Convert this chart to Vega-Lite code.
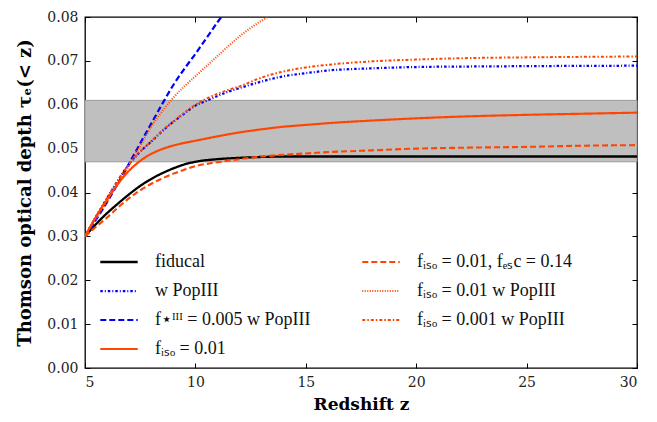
{
  "$schema": "https://vega.github.io/schema/vega-lite/v6.json",
  "width": 552,
  "height": 351,
  "autosize": {"type": "none"},
  "padding": {"left": 85, "top": 17, "right": 20, "bottom": 54},
  "config": {
    "font": "DejaVu Serif",
    "view": {"stroke": "#000", "strokeWidth": 1.3},
    "axis": {"grid": false, "domain": false, "tickColor": "#000", "tickSize": -5, "labelFont": "DejaVu Serif", "labelFontSize": 14, "labelColor": "#222", "titleFont": "DejaVu Serif", "titleFontSize": 17, "titleFontWeight": "bold", "titleColor": "#000"}
  },
  "datasets": {
    "band": [{"x0": 5, "x1": 30, "lo": 0.047, "hi": 0.061}],
    "curves": [
      {"z": 5, "tau": 0.030, "s": "fiducal"},
      {"z": 5.5, "tau": 0.0328, "s": "fiducal"},
      {"z": 6, "tau": 0.0353, "s": "fiducal"},
      {"z": 6.5, "tau": 0.0375, "s": "fiducal"},
      {"z": 7, "tau": 0.0396, "s": "fiducal"},
      {"z": 7.5, "tau": 0.0415, "s": "fiducal"},
      {"z": 8, "tau": 0.0431, "s": "fiducal"},
      {"z": 8.5, "tau": 0.0444, "s": "fiducal"},
      {"z": 9, "tau": 0.0455, "s": "fiducal"},
      {"z": 9.5, "tau": 0.0464, "s": "fiducal"},
      {"z": 10, "tau": 0.0470, "s": "fiducal"},
      {"z": 11, "tau": 0.0476, "s": "fiducal"},
      {"z": 12, "tau": 0.0479, "s": "fiducal"},
      {"z": 13, "tau": 0.0481, "s": "fiducal"},
      {"z": 14, "tau": 0.0482, "s": "fiducal"},
      {"z": 16, "tau": 0.0482, "s": "fiducal"},
      {"z": 20, "tau": 0.0482, "s": "fiducal"},
      {"z": 25, "tau": 0.0482, "s": "fiducal"},
      {"z": 30, "tau": 0.0482, "s": "fiducal"},

      {"z": 5, "tau": 0.030, "s": "w PopIII"},
      {"z": 5.5, "tau": 0.0345, "s": "w PopIII"},
      {"z": 6, "tau": 0.0387, "s": "w PopIII"},
      {"z": 6.5, "tau": 0.0428, "s": "w PopIII"},
      {"z": 7, "tau": 0.0465, "s": "w PopIII"},
      {"z": 7.5, "tau": 0.0493, "s": "w PopIII"},
      {"z": 8, "tau": 0.0516, "s": "w PopIII"},
      {"z": 8.5, "tau": 0.0540, "s": "w PopIII"},
      {"z": 9, "tau": 0.0561, "s": "w PopIII"},
      {"z": 9.5, "tau": 0.0580, "s": "w PopIII"},
      {"z": 10, "tau": 0.0598, "s": "w PopIII"},
      {"z": 10.5, "tau": 0.0609, "s": "w PopIII"},
      {"z": 11, "tau": 0.0620, "s": "w PopIII"},
      {"z": 11.5, "tau": 0.0630, "s": "w PopIII"},
      {"z": 12, "tau": 0.0638, "s": "w PopIII"},
      {"z": 13, "tau": 0.0653, "s": "w PopIII"},
      {"z": 14, "tau": 0.0665, "s": "w PopIII"},
      {"z": 15, "tau": 0.0672, "s": "w PopIII"},
      {"z": 16, "tau": 0.0678, "s": "w PopIII"},
      {"z": 18, "tau": 0.0683, "s": "w PopIII"},
      {"z": 20, "tau": 0.0686, "s": "w PopIII"},
      {"z": 22, "tau": 0.0687, "s": "w PopIII"},
      {"z": 25, "tau": 0.0688, "s": "w PopIII"},
      {"z": 30, "tau": 0.0689, "s": "w PopIII"},

      {"z": 5, "tau": 0.030, "s": "f⋆ᴵᴵᴵ = 0.005 w PopIII"},
      {"z": 5.5, "tau": 0.0338, "s": "f⋆ᴵᴵᴵ = 0.005 w PopIII"},
      {"z": 6, "tau": 0.0378, "s": "f⋆ᴵᴵᴵ = 0.005 w PopIII"},
      {"z": 6.5, "tau": 0.0421, "s": "f⋆ᴵᴵᴵ = 0.005 w PopIII"},
      {"z": 7, "tau": 0.0466, "s": "f⋆ᴵᴵᴵ = 0.005 w PopIII"},
      {"z": 7.5, "tau": 0.0512, "s": "f⋆ᴵᴵᴵ = 0.005 w PopIII"},
      {"z": 8, "tau": 0.0557, "s": "f⋆ᴵᴵᴵ = 0.005 w PopIII"},
      {"z": 8.5, "tau": 0.0602, "s": "f⋆ᴵᴵᴵ = 0.005 w PopIII"},
      {"z": 9, "tau": 0.0645, "s": "f⋆ᴵᴵᴵ = 0.005 w PopIII"},
      {"z": 9.5, "tau": 0.0682, "s": "f⋆ᴵᴵᴵ = 0.005 w PopIII"},
      {"z": 10, "tau": 0.0716, "s": "f⋆ᴵᴵᴵ = 0.005 w PopIII"},
      {"z": 10.5, "tau": 0.0752, "s": "f⋆ᴵᴵᴵ = 0.005 w PopIII"},
      {"z": 11, "tau": 0.0788, "s": "f⋆ᴵᴵᴵ = 0.005 w PopIII"},
      {"z": 11.5, "tau": 0.0822, "s": "f⋆ᴵᴵᴵ = 0.005 w PopIII"},
      {"z": 12, "tau": 0.0855, "s": "f⋆ᴵᴵᴵ = 0.005 w PopIII"},

      {"z": 5, "tau": 0.030, "s": "fᵢₛₒ = 0.01"},
      {"z": 5.5, "tau": 0.0345, "s": "fᵢₛₒ = 0.01"},
      {"z": 6, "tau": 0.0384, "s": "fᵢₛₒ = 0.01"},
      {"z": 6.5, "tau": 0.0420, "s": "fᵢₛₒ = 0.01"},
      {"z": 7, "tau": 0.0450, "s": "fᵢₛₒ = 0.01"},
      {"z": 7.5, "tau": 0.0472, "s": "fᵢₛₒ = 0.01"},
      {"z": 8, "tau": 0.0488, "s": "fᵢₛₒ = 0.01"},
      {"z": 8.5, "tau": 0.0499, "s": "fᵢₛₒ = 0.01"},
      {"z": 9, "tau": 0.0507, "s": "fᵢₛₒ = 0.01"},
      {"z": 9.5, "tau": 0.0513, "s": "fᵢₛₒ = 0.01"},
      {"z": 10, "tau": 0.0518, "s": "fᵢₛₒ = 0.01"},
      {"z": 11, "tau": 0.0528, "s": "fᵢₛₒ = 0.01"},
      {"z": 12, "tau": 0.0537, "s": "fᵢₛₒ = 0.01"},
      {"z": 13, "tau": 0.0544, "s": "fᵢₛₒ = 0.01"},
      {"z": 14, "tau": 0.0550, "s": "fᵢₛₒ = 0.01"},
      {"z": 15, "tau": 0.0554, "s": "fᵢₛₒ = 0.01"},
      {"z": 16, "tau": 0.0558, "s": "fᵢₛₒ = 0.01"},
      {"z": 18, "tau": 0.0564, "s": "fᵢₛₒ = 0.01"},
      {"z": 20, "tau": 0.0569, "s": "fᵢₛₒ = 0.01"},
      {"z": 22, "tau": 0.0573, "s": "fᵢₛₒ = 0.01"},
      {"z": 25, "tau": 0.0577, "s": "fᵢₛₒ = 0.01"},
      {"z": 28, "tau": 0.0580, "s": "fᵢₛₒ = 0.01"},
      {"z": 30, "tau": 0.0582, "s": "fᵢₛₒ = 0.01"},

      {"z": 5, "tau": 0.030, "s": "fᵢₛₒ = 0.01, fₑₛc = 0.14"},
      {"z": 5.5, "tau": 0.0322, "s": "fᵢₛₒ = 0.01, fₑₛc = 0.14"},
      {"z": 6, "tau": 0.0343, "s": "fᵢₛₒ = 0.01, fₑₛc = 0.14"},
      {"z": 6.5, "tau": 0.0366, "s": "fᵢₛₒ = 0.01, fₑₛc = 0.14"},
      {"z": 7, "tau": 0.0387, "s": "fᵢₛₒ = 0.01, fₑₛc = 0.14"},
      {"z": 7.5, "tau": 0.0405, "s": "fᵢₛₒ = 0.01, fₑₛc = 0.14"},
      {"z": 8, "tau": 0.0420, "s": "fᵢₛₒ = 0.01, fₑₛc = 0.14"},
      {"z": 8.5, "tau": 0.0432, "s": "fᵢₛₒ = 0.01, fₑₛc = 0.14"},
      {"z": 9, "tau": 0.0443, "s": "fᵢₛₒ = 0.01, fₑₛc = 0.14"},
      {"z": 9.5, "tau": 0.0452, "s": "fᵢₛₒ = 0.01, fₑₛc = 0.14"},
      {"z": 10, "tau": 0.0460, "s": "fᵢₛₒ = 0.01, fₑₛc = 0.14"},
      {"z": 11, "tau": 0.0469, "s": "fᵢₛₒ = 0.01, fₑₛc = 0.14"},
      {"z": 12, "tau": 0.0476, "s": "fᵢₛₒ = 0.01, fₑₛc = 0.14"},
      {"z": 13, "tau": 0.0482, "s": "fᵢₛₒ = 0.01, fₑₛc = 0.14"},
      {"z": 14, "tau": 0.0486, "s": "fᵢₛₒ = 0.01, fₑₛc = 0.14"},
      {"z": 15, "tau": 0.0489, "s": "fᵢₛₒ = 0.01, fₑₛc = 0.14"},
      {"z": 16, "tau": 0.0492, "s": "fᵢₛₒ = 0.01, fₑₛc = 0.14"},
      {"z": 18, "tau": 0.0496, "s": "fᵢₛₒ = 0.01, fₑₛc = 0.14"},
      {"z": 20, "tau": 0.0500, "s": "fᵢₛₒ = 0.01, fₑₛc = 0.14"},
      {"z": 22, "tau": 0.0502, "s": "fᵢₛₒ = 0.01, fₑₛc = 0.14"},
      {"z": 25, "tau": 0.0504, "s": "fᵢₛₒ = 0.01, fₑₛc = 0.14"},
      {"z": 28, "tau": 0.0507, "s": "fᵢₛₒ = 0.01, fₑₛc = 0.14"},
      {"z": 30, "tau": 0.0508, "s": "fᵢₛₒ = 0.01, fₑₛc = 0.14"},

      {"z": 5, "tau": 0.030, "s": "fᵢₛₒ = 0.01 w PopIII"},
      {"z": 5.5, "tau": 0.0340, "s": "fᵢₛₒ = 0.01 w PopIII"},
      {"z": 6, "tau": 0.0380, "s": "fᵢₛₒ = 0.01 w PopIII"},
      {"z": 6.5, "tau": 0.0421, "s": "fᵢₛₒ = 0.01 w PopIII"},
      {"z": 7, "tau": 0.0462, "s": "fᵢₛₒ = 0.01 w PopIII"},
      {"z": 7.5, "tau": 0.0506, "s": "fᵢₛₒ = 0.01 w PopIII"},
      {"z": 8, "tau": 0.0550, "s": "fᵢₛₒ = 0.01 w PopIII"},
      {"z": 8.5, "tau": 0.0585, "s": "fᵢₛₒ = 0.01 w PopIII"},
      {"z": 9, "tau": 0.0616, "s": "fᵢₛₒ = 0.01 w PopIII"},
      {"z": 9.5, "tau": 0.0642, "s": "fᵢₛₒ = 0.01 w PopIII"},
      {"z": 10, "tau": 0.0665, "s": "fᵢₛₒ = 0.01 w PopIII"},
      {"z": 10.5, "tau": 0.0688, "s": "fᵢₛₒ = 0.01 w PopIII"},
      {"z": 11, "tau": 0.0711, "s": "fᵢₛₒ = 0.01 w PopIII"},
      {"z": 11.5, "tau": 0.0734, "s": "fᵢₛₒ = 0.01 w PopIII"},
      {"z": 12, "tau": 0.0756, "s": "fᵢₛₒ = 0.01 w PopIII"},
      {"z": 12.5, "tau": 0.0775, "s": "fᵢₛₒ = 0.01 w PopIII"},
      {"z": 13, "tau": 0.0792, "s": "fᵢₛₒ = 0.01 w PopIII"},
      {"z": 13.5, "tau": 0.0806, "s": "fᵢₛₒ = 0.01 w PopIII"},
      {"z": 14, "tau": 0.0820, "s": "fᵢₛₒ = 0.01 w PopIII"},

      {"z": 5, "tau": 0.030, "s": "fᵢₛₒ = 0.001 w PopIII"},
      {"z": 5.5, "tau": 0.0345, "s": "fᵢₛₒ = 0.001 w PopIII"},
      {"z": 6, "tau": 0.0387, "s": "fᵢₛₒ = 0.001 w PopIII"},
      {"z": 6.5, "tau": 0.0428, "s": "fᵢₛₒ = 0.001 w PopIII"},
      {"z": 7, "tau": 0.0465, "s": "fᵢₛₒ = 0.001 w PopIII"},
      {"z": 7.5, "tau": 0.0493, "s": "fᵢₛₒ = 0.001 w PopIII"},
      {"z": 8, "tau": 0.0517, "s": "fᵢₛₒ = 0.001 w PopIII"},
      {"z": 8.5, "tau": 0.0541, "s": "fᵢₛₒ = 0.001 w PopIII"},
      {"z": 9, "tau": 0.0562, "s": "fᵢₛₒ = 0.001 w PopIII"},
      {"z": 9.5, "tau": 0.0582, "s": "fᵢₛₒ = 0.001 w PopIII"},
      {"z": 10, "tau": 0.0600, "s": "fᵢₛₒ = 0.001 w PopIII"},
      {"z": 10.5, "tau": 0.0614, "s": "fᵢₛₒ = 0.001 w PopIII"},
      {"z": 11, "tau": 0.0625, "s": "fᵢₛₒ = 0.001 w PopIII"},
      {"z": 11.5, "tau": 0.0634, "s": "fᵢₛₒ = 0.001 w PopIII"},
      {"z": 12, "tau": 0.0642, "s": "fᵢₛₒ = 0.001 w PopIII"},
      {"z": 13, "tau": 0.0662, "s": "fᵢₛₒ = 0.001 w PopIII"},
      {"z": 14, "tau": 0.0676, "s": "fᵢₛₒ = 0.001 w PopIII"},
      {"z": 15, "tau": 0.0685, "s": "fᵢₛₒ = 0.001 w PopIII"},
      {"z": 16, "tau": 0.0691, "s": "fᵢₛₒ = 0.001 w PopIII"},
      {"z": 18, "tau": 0.0699, "s": "fᵢₛₒ = 0.001 w PopIII"},
      {"z": 20, "tau": 0.0703, "s": "fᵢₛₒ = 0.001 w PopIII"},
      {"z": 22, "tau": 0.0706, "s": "fᵢₛₒ = 0.001 w PopIII"},
      {"z": 25, "tau": 0.0708, "s": "fᵢₛₒ = 0.001 w PopIII"},
      {"z": 30, "tau": 0.0710, "s": "fᵢₛₒ = 0.001 w PopIII"}
    ]
  },
  "resolve": {"axis": {"x": "independent", "y": "independent"}},
  "layer": [
    {
      "data": {"name": "band"},
      "mark": {"type": "rect", "fill": "#bfbfbf", "stroke": "#9a9a9a", "strokeWidth": 1},
      "encoding": {
        "x": {"field": "x0", "type": "quantitative", "scale": {"domain": [5, 30], "nice": false}, "axis": {"orient": "top", "labels": false, "title": null, "values": [5, 10, 15, 20, 25, 30]}},
        "x2": {"field": "x1"},
        "y": {"field": "lo", "type": "quantitative", "scale": {"domain": [0, 0.08], "nice": false}, "axis": {"orient": "right", "labels": false, "title": null, "values": [0, 0.01, 0.02, 0.03, 0.04, 0.05, 0.06, 0.07, 0.08]}},
        "y2": {"field": "hi"}
      }
    },
    {
      "data": {"name": "curves"},
      "mark": {"type": "line", "clip": true, "interpolate": "monotone"},
      "encoding": {
        "x": {"field": "z", "type": "quantitative", "scale": {"domain": [5, 30], "nice": false}, "axis": {"title": "Redshift z", "values": [5, 10, 15, 20, 25, 30], "labelPadding": 12, "titlePadding": 7}},
        "y": {"field": "tau", "type": "quantitative", "scale": {"domain": [0, 0.08], "nice": false}, "axis": {"title": "Thomson optical depth τₑ(< z)", "titleFontSize": 18, "values": [0, 0.01, 0.02, 0.03, 0.04, 0.05, 0.06, 0.07, 0.08], "format": ".2f", "labelPadding": 12, "titlePadding": 12}},
        "detail": {"field": "s"},
        "color": {
          "field": "s", "type": "nominal",
          "scale": {
            "domain": ["fiducal", "w PopIII", "f⋆ᴵᴵᴵ = 0.005 w PopIII", "fᵢₛₒ = 0.01", "fᵢₛₒ = 0.01, fₑₛc = 0.14", "fᵢₛₒ = 0.01 w PopIII", "fᵢₛₒ = 0.001 w PopIII"],
            "range": ["#000000", "#0000ff", "#0000ff", "#ff4500", "#ff4500", "#ff4500", "#ff4500"]
          },
          "legend": {
            "title": null, "orient": "none", "legendX": 14, "legendY": 225, "columns": 2, "columnPadding": 47,
            "symbolType": "stroke", "symbolSize": 1400, "symbolStrokeWidth": 2,
            "labelFont": "Liberation Serif", "labelFontSize": 18, "labelLimit": 400, "labelColor": "#111", "labelOffset": 16, "rowPadding": -1
          }
        },
        "strokeDash": {
          "field": "s", "type": "nominal",
          "scale": {
            "domain": ["fiducal", "w PopIII", "f⋆ᴵᴵᴵ = 0.005 w PopIII", "fᵢₛₒ = 0.01", "fᵢₛₒ = 0.01, fₑₛc = 0.14", "fᵢₛₒ = 0.01 w PopIII", "fᵢₛₒ = 0.001 w PopIII"],
            "range": [[1, 0], [2.5, 2, 1, 2], [6, 3], [1, 0], [6, 3], [1, 1.5], [3, 2, 1.5, 2]]
          },
          "legend": {
            "title": null, "orient": "none", "legendX": 14, "legendY": 225, "columns": 2, "columnPadding": 47,
            "symbolType": "stroke", "symbolSize": 1400, "symbolStrokeWidth": 2,
            "labelFont": "Liberation Serif", "labelFontSize": 18, "labelLimit": 400, "labelColor": "#111", "labelOffset": 16, "rowPadding": -1
          }
        },
        "strokeWidth": {
          "field": "s", "type": "nominal",
          "scale": {
            "domain": ["fiducal", "w PopIII", "f⋆ᴵᴵᴵ = 0.005 w PopIII", "fᵢₛₒ = 0.01", "fᵢₛₒ = 0.01, fₑₛc = 0.14", "fᵢₛₒ = 0.01 w PopIII", "fᵢₛₒ = 0.001 w PopIII"],
            "range": [2.3, 2, 2.5, 2.3, 2.5, 1.2, 2]
          },
          "legend": null
        }
      }
    }
  ]
}
